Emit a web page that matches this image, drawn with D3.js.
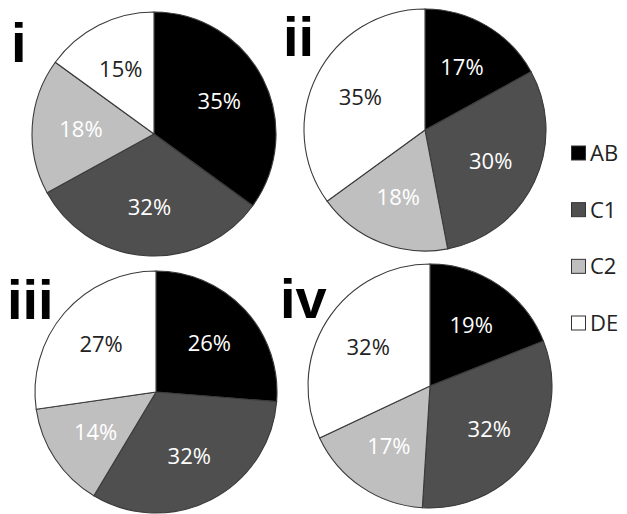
<!DOCTYPE html>
<html>
<head>
<meta charset="utf-8">
<script src="https://cdn.jsdelivr.net/npm/d3@7"></script>
<style>
  html, body { margin: 0; padding: 0; background: #fff; }
  svg { display: block; }
</style>
</head>
<body>
<svg id="chart" width="627" height="514"></svg>
<script>
// Four samples, each split into the same four groups
const categories = ["AB", "C1", "C2", "DE"];
const panels = ["i", "ii", "iii", "iv"];
const valuesI   = [35, 32, 18, 15];
const valuesII  = [17, 30, 18, 35];
const valuesIII = [26, 32, 14, 27];
const valuesIV  = [19, 32, 17, 32];
const series = [valuesI, valuesII, valuesIII, valuesIV];

const fills = ["#000000", "#4f4f4f", "#bfbfbf", "#ffffff"];
const labelColors = ["#ffffff", "#ffffff", "#ffffff", "#222222"];

const svg = d3.select("#chart");

const color = d3.scaleOrdinal().domain(categories).range(fills);
const textColor = d3.scaleOrdinal().domain(categories).range(labelColors);

// layout of the 2x2 grid of pies
const layout = [
  { cx: 154, cy: 134, r: 122, tx: 11, ty: 62 },
  { cx: 425, cy: 130, r: 121, tx: 283, ty: 56 },
  { cx: 156, cy: 392, r: 121, tx: 7, ty: 319 },
  { cx: 430, cy: 386, r: 122, tx: 280, ty: 318 }
];

const pie = d3.pie().sort(null).value(d => d.value);

series.forEach((vals, i) => {
  const L = layout[i];
  const data = vals.map((v, k) => ({ cat: categories[k], value: v }));
  const arc = d3.arc().innerRadius(0).outerRadius(L.r);
  const labelArc = d3.arc().innerRadius(L.r * 0.6).outerRadius(L.r * 0.6);

  const g = svg.append("g").attr("transform", `translate(${L.cx},${L.cy})`);

  g.selectAll("path")
    .data(pie(data))
    .join("path")
    .attr("d", arc)
    .attr("fill", d => color(d.data.cat))
    .attr("stroke", "#3a3a3a")
    .attr("stroke-width", 1.1);

  g.selectAll("text")
    .data(pie(data))
    .join("text")
    .attr("transform", d => `translate(${labelArc.centroid(d)})`)
    .attr("text-anchor", "middle")
    .attr("dy", "0.36em")
    .attr("font-family", "'Open Sans', sans-serif")
    .attr("font-size", 22)
    .attr("fill", d => textColor(d.data.cat))
    .text(d => d.data.value + "%");

  svg.append("text")
    .attr("x", L.tx)
    .attr("y", L.ty)
    .attr("font-family", "'Liberation Sans', Arial, sans-serif")
    .attr("font-weight", "bold")
    .attr("font-size", 56)
    .attr("fill", "#000")
    .text(panels[i]);
});

// legend
const legendY = d3.scalePoint().domain(categories).range([153, 323]);
const legend = svg.append("g").attr("class", "legend");
const item = legend.selectAll("g")
  .data(categories)
  .join("g")
  .attr("transform", d => `translate(571,${legendY(d)})`);

item.append("rect")
  .attr("x", 0.5)
  .attr("y", -7)
  .attr("width", 14)
  .attr("height", 14)
  .attr("fill", d => color(d))
  .attr("stroke", "#333")
  .attr("stroke-width", 1);

item.append("text")
  .attr("x", 19)
  .attr("y", 0)
  .attr("dy", "0.36em")
  .attr("font-family", "'Open Sans', sans-serif")
  .attr("font-size", 22)
  .attr("fill", "#222")
  .text(d => d);
</script>
</body>
</html>
